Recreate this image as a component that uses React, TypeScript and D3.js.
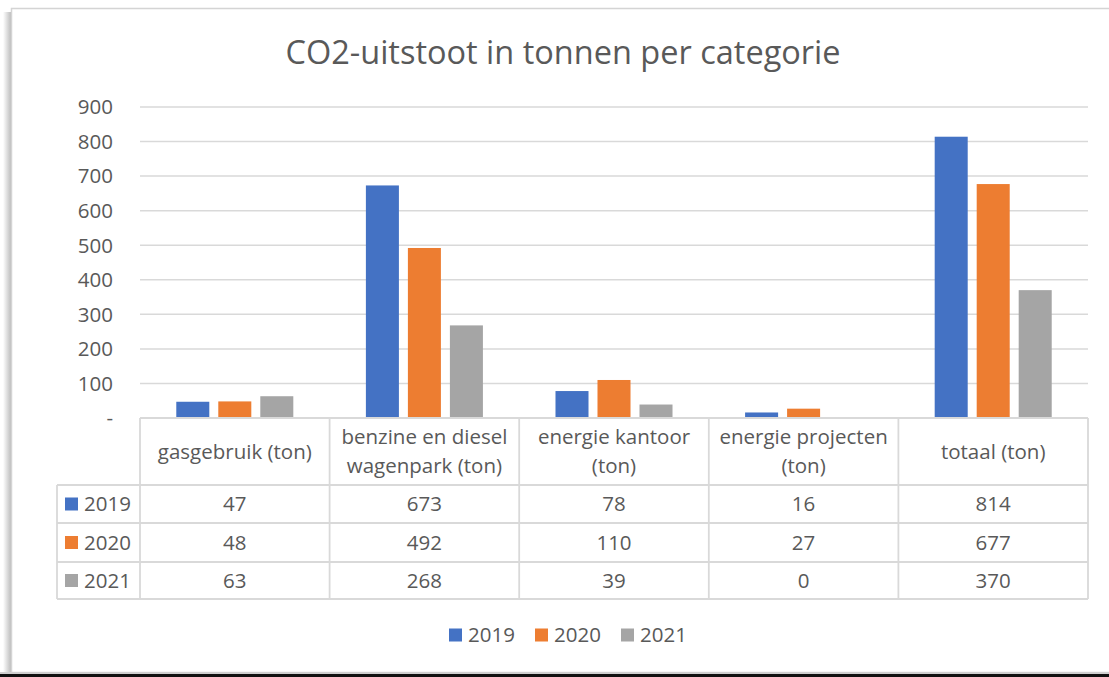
import React from 'react';
import * as d3 from 'd3';

// categorieën (kolomkoppen van de datatabel, per regel)
const categories = ['gasgebruik', 'benzine', 'kantoor', 'projecten', 'totaal'];
const headerLines = [
  ['gasgebruik (ton)'],
  ['benzine en diesel', 'wagenpark (ton)'],
  ['energie kantoor', '(ton)'],
  ['energie projecten', '(ton)'],
  ['totaal (ton)'],
];
const years = ['2019', '2020', '2021'];
const values2019 = [47, 673, 78, 16, 814];
const values2020 = [48, 492, 110, 27, 677];
const values2021 = [63, 268, 39, 0, 370];
const yTicks = [0, 100, 200, 300, 400, 500, 600, 700, 800, 900];
const colors = ['#4472C4', '#ED7D31', '#A5A5A5'];

const series = [values2019, values2020, values2021];

const W = 1109;
const H = 677;
const FONT = "'Open Sans', sans-serif";
const TXT = '#595959';
const GRID = '#D9D9D9';
const FS = 20.5;

export default function App() {
  const margin = { left: 140, right: 21, top: 107, axis: 418 };

  const x = d3.scaleBand<string>()
    .domain(categories)
    .range([margin.left, W - margin.right]);

  const xInner = d3.scaleBand<string>()
    .domain(years)
    .range([0, x.bandwidth()])
    .paddingInner(0.214)
    .paddingOuter(0.864);

  const y = d3.scaleLinear()
    .domain([0, 900])
    .range([margin.axis, margin.top]);

  // datatabel
  const headerBottom = 485;
  const rowLines = [headerBottom, 523, 562, 599];
  const tableLeft = 57;
  const xRight = W - margin.right;

  const legendX = [449, 535, 621];

  return (
    <svg width={W} height={H} style={{ position: 'absolute', left: 0, top: 0, background: '#fff' }}
      fontFamily={FONT}>
      <defs>
        <linearGradient id="shadowL" x1="0" x2="1" y1="0" y2="0">
          <stop offset="0" stopColor="#fff" />
          <stop offset="1" stopColor="#bdbdbd" />
        </linearGradient>
      </defs>

      {/* kader */}
      <rect x={3} y={12} width={8} height={660} fill="url(#shadowL)" />
      <rect x={11.5} y={8.5} width={W} height={664} fill="#fff" stroke="#d4d4d4" strokeWidth={1.5} />
      <rect x={0} y={674} width={W} height={3} fill="#111" />
      <rect x={0} y={672} width={W} height={2} fill="#cfcfcf" />

      {/* titel */}
      <text x={563} y={64} textAnchor="middle" fontSize={32.5} fill={TXT}>
        CO2-uitstoot in tonnen per categorie
      </text>

      {/* rasterlijnen + y-as */}
      {yTicks.map(t => (
        <g key={t}>
          {t > 0 && (
            <line x1={margin.left} x2={xRight} y1={y(t)} y2={y(t)} stroke={GRID} strokeWidth={1.5} />
          )}
          <text x={113} y={y(t)} dy="0.36em" textAnchor="end" fontSize={FS} fill={TXT}>
            {t === 0 ? '-' : t}
          </text>
        </g>
      ))}

      {/* staven */}
      {categories.map((c, ci) => (
        <g key={c} transform={`translate(${x(c)},0)`}>
          {years.map((yr, si) => {
            const v = series[si][ci];
            return (
              <rect key={yr} x={xInner(yr)} y={y(v)} width={xInner.bandwidth()}
                height={y(0) - y(v)} fill={colors[si]} />
            );
          })}
        </g>
      ))}

      {/* tabelraster */}
      <g stroke={GRID} strokeWidth={1.8} fill="none">
        <line x1={margin.left} x2={xRight} y1={margin.axis} y2={margin.axis} />
        {rowLines.map((ry, i) => (
          <line key={i} x1={tableLeft} x2={xRight} y1={ry} y2={ry} />
        ))}
        <line x1={tableLeft} x2={tableLeft} y1={headerBottom} y2={599} />
        {categories.map(c => (
          <line key={c} x1={x(c)} x2={x(c)} y1={margin.axis} y2={599} />
        ))}
        <line x1={xRight} x2={xRight} y1={margin.axis} y2={599} />
      </g>

      {/* kolomkoppen */}
      {categories.map((c, ci) => {
        const lines = headerLines[ci];
        const cx = (x(c) as number) + x.bandwidth() / 2;
        const cy = (margin.axis + headerBottom) / 2;
        return (
          <text key={c} textAnchor="middle" fontSize={FS} fill={TXT}>
            {lines.map((l, li) => (
              <tspan key={li} x={cx} y={cy + (li - (lines.length - 1) / 2) * 29} dy="0.36em">{l}</tspan>
            ))}
          </text>
        );
      })}

      {/* rijen */}
      {years.map((yr, si) => {
        const top = rowLines[si];
        const bot = rowLines[si + 1];
        const cy = (top + bot) / 2;
        return (
          <g key={yr}>
            <rect x={65} y={cy - 6.5} width={13} height={13} fill={colors[si]} />
            <text x={84} y={cy} dy="0.36em" fontSize={FS} fill={TXT}>{yr}</text>
            {categories.map((c, ci) => (
              <text key={c} x={(x(c) as number) + x.bandwidth() / 2} y={cy} dy="0.36em"
                textAnchor="middle" fontSize={FS} fill={TXT}>
                {series[si][ci]}
              </text>
            ))}
          </g>
        );
      })}

      {/* legenda */}
      {years.map((yr, si) => (
        <g key={yr} transform={`translate(${legendX[si]},635)`}>
          <rect x={0} y={-6.5} width={13} height={13} fill={colors[si]} />
          <text x={19} y={0} dy="0.36em" fontSize={FS} fill={TXT}>{yr}</text>
        </g>
      ))}
    </svg>
  );
}
